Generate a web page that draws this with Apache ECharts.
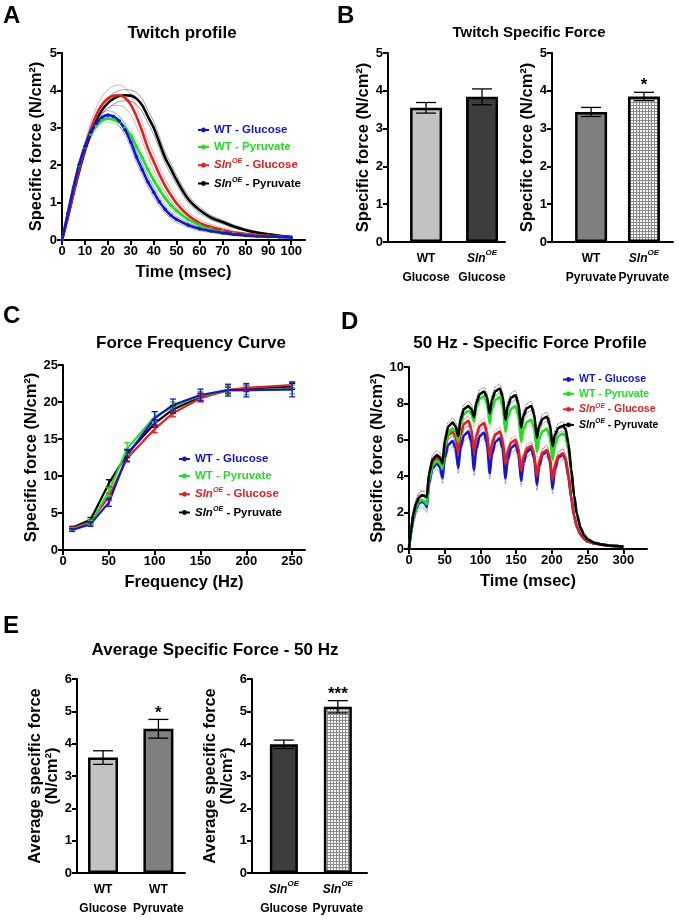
<!DOCTYPE html>
<html>
<head>
<meta charset="utf-8">
<script src="https://cdn.jsdelivr.net/npm/echarts@6/dist/echarts.min.js"></script>
<style>
  html, body { margin: 0; padding: 0; background: #fff; }
  #chart { width: 684px; height: 920px; }
</style>
</head>
<body>
<div id="chart"></div>
<script>
// ---------- data ----------
const groupNames = ['WT - Glucose', 'WT - Pyruvate', 'SlnOE - Glucose', 'SlnOE - Pyruvate'];
const groupColors = ['#1414d2', '#22dd22', '#e41e1e', '#000000'];

// A - twitch profile (ms, N/cm2)
const twitchTime = [0, 2.5, 5, 7.5, 10, 12.5, 15, 17.5, 20, 22.5, 25, 27.5, 30, 32.5, 35, 37.5, 40, 42.5, 45, 47.5, 50, 55, 60, 65, 70, 75, 80, 85, 90, 95, 100];
const twitchWTGlu = [0, 0.7, 1.4, 2.02, 2.5, 2.88, 3.12, 3.28, 3.34, 3.3, 3.18, 2.95, 2.62, 2.22, 1.88, 1.55, 1.28, 1.02, 0.82, 0.66, 0.55, 0.4, 0.3, 0.24, 0.19, 0.15, 0.12, 0.1, 0.09, 0.08, 0.07];
const twitchWTPyr = [0, 0.7, 1.4, 2.0, 2.48, 2.83, 3.05, 3.2, 3.25, 3.23, 3.15, 3.0, 2.8, 2.5, 2.2, 1.88, 1.6, 1.35, 1.12, 0.93, 0.78, 0.55, 0.4, 0.31, 0.24, 0.19, 0.15, 0.12, 0.1, 0.09, 0.08];
const twitchSlnGlu = [0, 0.6, 1.25, 1.9, 2.45, 2.95, 3.35, 3.62, 3.78, 3.86, 3.87, 3.8, 3.62, 3.3, 2.9, 2.45, 2.1, 1.75, 1.45, 1.2, 0.98, 0.66, 0.46, 0.35, 0.27, 0.2, 0.16, 0.13, 0.11, 0.09, 0.08];
const twitchSlnPyr = [0, 0.6, 1.25, 1.85, 2.4, 2.85, 3.2, 3.48, 3.66, 3.78, 3.85, 3.87, 3.86, 3.78, 3.6, 3.3, 3.0, 2.6, 2.2, 1.9, 1.6, 1.1, 0.8, 0.6, 0.48, 0.36, 0.27, 0.2, 0.15, 0.11, 0.08];
const twitchSemWTGlu = [0, 0.04, 0.07, 0.09, 0.1, 0.11, 0.11, 0.12, 0.12, 0.12, 0.13, 0.14, 0.15, 0.15, 0.15, 0.14, 0.13, 0.12, 0.1, 0.09, 0.08, 0.06, 0.05, 0.04, 0.03, 0.03, 0.02, 0.02, 0.02, 0.02, 0.02];
const twitchSemWTPyr = [0, 0.04, 0.07, 0.08, 0.09, 0.1, 0.1, 0.1, 0.11, 0.11, 0.12, 0.13, 0.14, 0.15, 0.15, 0.15, 0.14, 0.13, 0.12, 0.1, 0.09, 0.07, 0.05, 0.04, 0.04, 0.03, 0.03, 0.02, 0.02, 0.02, 0.02];
const twitchSemSlnGlu = [0, 0.05, 0.09, 0.12, 0.15, 0.18, 0.2, 0.22, 0.24, 0.26, 0.27, 0.27, 0.27, 0.26, 0.25, 0.23, 0.21, 0.19, 0.17, 0.15, 0.13, 0.1, 0.08, 0.06, 0.05, 0.04, 0.03, 0.03, 0.02, 0.02, 0.02];
const twitchSemSlnPyr = [0, 0.04, 0.07, 0.09, 0.1, 0.11, 0.12, 0.13, 0.14, 0.15, 0.15, 0.15, 0.15, 0.16, 0.17, 0.17, 0.17, 0.16, 0.15, 0.14, 0.12, 0.1, 0.08, 0.06, 0.05, 0.04, 0.03, 0.03, 0.02, 0.02, 0.02];
const twitchTicks = [0, 10, 20, 30, 40, 50, 60, 70, 80, 90, 100];

// B - twitch specific force bars
const twitchBarLeftLabels = ['WT\nGlucose', 'SlnOE\nGlucose'];
const twitchBarLeftMean = [3.55, 3.84];
const twitchBarLeftSem = [0.14, 0.21];
const twitchBarLeftSig = ['', ''];
const twitchBarRightLabels = ['WT\nPyruvate', 'SlnOE\nPyruvate'];
const twitchBarRightMean = [3.44, 3.85];
const twitchBarRightSem = [0.12, 0.11];
const twitchBarRightSig = ['', '*'];

// C - force frequency curve (Hz, N/cm2)
const freqHz = [10, 30, 50, 70, 100, 120, 150, 180, 200, 250];
const ffWTGlu = [2.7, 3.5, 6.4, 12.8, 17.8, 19.6, 20.95, 21.6, 21.6, 21.7];
const ffWTPyr = [2.8, 3.65, 7.9, 13.7, 18.0, 19.4, 20.85, 21.6, 21.6, 21.7];
const ffSlnGlu = [2.9, 3.8, 7.2, 12.4, 16.35, 18.5, 20.5, 21.6, 21.9, 22.3];
const ffSlnPyr = [3.0, 4.1, 9.0, 13.0, 17.1, 19.0, 20.7, 21.6, 21.8, 22.1];
const ffErrWTGlu = [0.2, 0.3, 0.5, 0.8, 0.9, 0.8, 0.8, 0.8, 0.9, 1.0];
const ffErrWTPyr = [0.2, 0.3, 0.6, 0.8, 0.7, 0.6, 0.6, 0.6, 0.6, 0.6];
const ffErrSlnGlu = [0.2, 0.3, 0.5, 0.5, 0.5, 0.5, 0.5, 0.4, 0.4, 0.4];
const ffErrSlnPyr = [0.2, 0.3, 0.5, 0.5, 0.5, 0.5, 0.5, 0.4, 0.4, 0.4];
const freqTicks = [0, 50, 100, 150, 200, 250];

// D - 50 Hz specific force profile (ms, N/cm2)
const tetTime = [0, 3, 6, 10, 14, 18, 22, 25, 28, 33, 39, 43, 47, 50, 55, 61, 65, 69, 72, 77, 83, 87, 91, 94, 99, 105, 109, 113, 116, 121, 127, 131, 135, 138, 143, 149, 153, 157, 160, 165, 171, 175, 179, 182, 187, 193, 197, 201, 204, 209, 215, 219, 223, 227, 231, 235, 240, 245, 250, 260, 270, 285, 300];
const tetWTGlu = [0, 0.9, 1.65, 2.2, 2.5, 2.6, 2.5, 2.3, 3.62, 4.46, 4.7, 4.5, 3.9, 5.02, 5.73, 5.93, 5.56, 4.45, 5.55, 6.25, 6.45, 5.93, 4.35, 5.48, 6.2, 6.4, 5.84, 4.15, 5.21, 5.89, 6.08, 5.53, 3.88, 4.91, 5.56, 5.75, 5.25, 3.74, 4.72, 5.35, 5.53, 5.03, 3.52, 4.54, 5.19, 5.38, 4.87, 3.33, 4.36, 5.01, 5.2, 4.9, 4.0, 2.8, 1.8, 1.2, 0.8, 0.55, 0.42, 0.3, 0.24, 0.18, 0.14];
const tetWTPyr = [0, 0.95, 1.75, 2.3, 2.6, 2.7, 2.6, 2.45, 3.77, 4.61, 4.85, 4.74, 4.4, 5.61, 6.38, 6.6, 6.43, 5.9, 6.84, 7.43, 7.6, 7.45, 7.0, 7.77, 8.26, 8.4, 8.03, 6.9, 7.7, 8.2, 8.35, 7.88, 6.45, 7.22, 7.71, 7.85, 7.36, 5.9, 6.56, 6.98, 7.1, 6.66, 5.35, 6.04, 6.48, 6.6, 6.18, 4.9, 5.7, 6.21, 6.35, 6.2, 5.5, 4.2, 2.9, 1.9, 1.2, 0.8, 0.55, 0.35, 0.25, 0.18, 0.14];
const tetSlnGlu = [0, 1.05, 1.9, 2.5, 2.82, 2.95, 2.92, 2.85, 4.03, 4.79, 5.0, 4.88, 4.5, 5.57, 6.26, 6.45, 6.16, 5.3, 6.26, 6.88, 7.05, 6.63, 5.35, 6.21, 6.76, 6.92, 6.44, 5.0, 5.8, 6.3, 6.45, 6.0, 4.65, 5.38, 5.85, 5.98, 5.56, 4.3, 5.05, 5.52, 5.66, 5.25, 4.0, 4.79, 5.3, 5.44, 5.03, 3.8, 4.6, 5.11, 5.26, 5.0, 4.1, 2.9, 1.85, 1.2, 0.8, 0.55, 0.42, 0.3, 0.23, 0.17, 0.13];
const tetSlnPyr = [0, 1.05, 1.9, 2.5, 2.82, 2.95, 2.92, 2.85, 4.12, 4.92, 5.15, 5.04, 4.7, 5.94, 6.73, 6.95, 6.76, 6.2, 7.11, 7.69, 7.85, 7.7, 7.25, 8.02, 8.51, 8.65, 8.35, 7.45, 8.2, 8.68, 8.82, 8.39, 7.1, 7.84, 8.32, 8.45, 8.0, 6.65, 7.32, 7.74, 7.86, 7.42, 6.1, 6.74, 7.15, 7.27, 6.87, 5.65, 6.26, 6.65, 6.76, 6.6, 5.8, 4.4, 2.95, 1.9, 1.15, 0.75, 0.52, 0.33, 0.24, 0.17, 0.13];
const tetSem = [0.3, 0.3, 0.25, 0.25];
const tetBandEnd = 227;
const tetTicks = [0, 50, 100, 150, 200, 250, 300];

// E - average specific force at 50 Hz
const avgLeftLabels = ['WT\nGlucose', 'WT\nPyruvate'];
const avgLeftMean = [3.57, 4.46];
const avgLeftSem = [0.21, 0.29];
const avgLeftSig = ['', '*'];
const avgRightLabels = ['SlnOE\nGlucose', 'SlnOE\nPyruvate'];
const avgRightMean = [3.98, 5.14];
const avgRightSem = [0.13, 0.19];
const avgRightSig = ['', '***'];

// ---------- styling helpers ----------
const FONT = '"Liberation Sans", Arial, Helvetica, sans-serif';
const NARROW = '"Liberation Sans Narrow", "Liberation Sans", Arial, sans-serif';

// checkered fill for the SlnOE pyruvate bars
const patCanvas = document.createElement('canvas');
patCanvas.width = 3;
patCanvas.height = 3;
const pctx = patCanvas.getContext('2d');
pctx.fillStyle = '#f4f4f4';
pctx.fillRect(0, 0, 3, 3);
pctx.fillStyle = '#8c8c8c';
pctx.fillRect(0, 0, 3, 1);
pctx.fillRect(0, 0, 1, 3);
const checkFill = { image: patCanvas, repeat: 'repeat' };

const FILL_WT_GLU = '#c2c2c2';
const FILL_SLN_GLU = '#3d3d3d';
const FILL_WT_PYR = '#7f7f7f';

function pairs(xs, ys) {
  return xs.map((x, i) => [x, ys[i]]);
}

function legendRich(size) {
  return {
    t: { fontSize: size, fontWeight: 'bold', fontFamily: FONT, lineHeight: size + 3 },
    i: { fontSize: size, fontWeight: 'bold', fontStyle: 'italic', fontFamily: FONT, lineHeight: size + 3 },
    s: { fontSize: size * 0.62, fontWeight: 'bold', fontStyle: 'italic', fontFamily: FONT, lineHeight: size * 0.7, verticalAlign: 'top' }
  };
}

function legendLabel(name) {
  if (name.indexOf('SlnOE') === 0) {
    return '{i|Sln}{s|OE}{t|' + name.slice(5) + '}';
  }
  return '{t|' + name + '}';
}

function makeLegend(left, top, size, gap) {
  return {
    orient: 'vertical',
    left: left,
    top: top,
    itemGap: gap,
    itemWidth: 11,
    itemHeight: 6,
    selectedMode: false,
    padding: 0,
    formatter: legendLabel,
    data: groupNames.map((n, i) => ({
      name: n,
      textStyle: { color: groupColors[i], fontSize: size, fontWeight: 'bold', fontFamily: FONT, rich: legendRich(size) }
    }))
  };
}

const catRich = {
  b: { fontSize: 12, fontWeight: 'bold', fontFamily: NARROW, lineHeight: 19, color: '#000' },
  i: { fontSize: 12, fontWeight: 'bold', fontStyle: 'italic', fontFamily: NARROW, lineHeight: 19, color: '#000' },
  s: { fontSize: 8, fontWeight: 'bold', fontStyle: 'italic', fontFamily: NARROW, lineHeight: 9, verticalAlign: 'top', color: '#000' },
  n: { fontSize: 12, fontWeight: 'bold', fontFamily: NARROW, lineHeight: 19, color: '#000' }
};

function catLabel(s) {
  const lines = s.split('\n');
  const first = lines[0] === 'SlnOE' ? '{i|Sln}{s|OE}' : '{b|' + lines[0] + '}';
  return first + '\n{n|' + lines[1] + '}';
}

const axisLineStyle = { show: true, onZero: false, lineStyle: { color: '#000', width: 2 } };
const tickStyle = { show: true, length: 5, lineStyle: { color: '#000', width: 2 } };
const labelStyle = { color: '#000', fontWeight: 'bold', fontSize: 13, fontFamily: FONT, margin: 5 };
const nameStyle = { color: '#000', fontWeight: 'bold', fontSize: 16.5, fontFamily: FONT };

function valueY(grid, max, interval, name, gap) {
  return {
    type: 'value', gridIndex: grid, min: 0, max: max, interval: interval,
    name: name, nameLocation: 'middle', nameGap: gap, nameTextStyle: nameStyle,
    axisLine: axisLineStyle, axisTick: tickStyle, axisLabel: labelStyle, splitLine: { show: false }
  };
}

function valueX(grid, max, ticks, name, gap) {
  return {
    type: 'value', gridIndex: grid, min: 0, max: max,
    name: name, nameLocation: 'middle', nameGap: gap, nameTextStyle: nameStyle,
    axisLine: axisLineStyle,
    axisTick: Object.assign({}, tickStyle, { customValues: ticks }),
    axisLabel: Object.assign({}, labelStyle, { customValues: ticks }),
    splitLine: { show: false }
  };
}

function barX(grid, min, max, labels) {
  return {
    type: 'value', gridIndex: grid, min: min, max: max,
    axisLine: axisLineStyle,
    axisTick: { show: false },
    axisLabel: {
      customValues: labels.map((l, i) => i + 1),
      margin: 7,
      formatter: v => catLabel(labels[Math.round(v) - 1]),
      rich: catRich
    },
    splitLine: { show: false }
  };
}

function errorRender(capHalf, color, width, sig, starSize) {
  return function (params, api) {
    const x = api.value(0), m = api.value(1), e = api.value(2);
    const hi = api.coord([x, m + e]);
    const lo = api.coord([x, m - e]);
    const st = { stroke: color, lineWidth: width };
    const children = [
      { type: 'line', shape: { x1: hi[0], y1: hi[1], x2: lo[0], y2: lo[1] }, style: st },
      { type: 'line', shape: { x1: hi[0] - capHalf, y1: hi[1], x2: hi[0] + capHalf, y2: hi[1] }, style: st },
      { type: 'line', shape: { x1: lo[0] - capHalf, y1: lo[1], x2: lo[0] + capHalf, y2: lo[1] }, style: st }
    ];
    if (sig && sig[params.dataIndex]) {
      children.push({
        type: 'text',
        style: {
          text: sig[params.dataIndex], x: hi[0], y: hi[1] + 2,
          align: 'center', verticalAlign: 'bottom',
          font: 'bold ' + starSize + 'px ' + FONT, fill: '#000'
        }
      });
    }
    return { type: 'group', children: children };
  };
}

function barSeries(grid, means, sems, sig, fills, width) {
  return [
    {
      type: 'bar', xAxisIndex: grid, yAxisIndex: grid, barWidth: width,
      data: means.map((v, i) => ({ value: [i + 1, v], itemStyle: { color: fills[i] } })),
      itemStyle: { borderColor: '#000', borderWidth: 2.5 },
      z: 2
    },
    {
      type: 'custom', xAxisIndex: grid, yAxisIndex: grid,
      data: means.map((v, i) => [i + 1, v, sems[i]]),
      renderItem: errorRender(10, '#000', 1.3, sig, 17),
      z: 3
    }
  ];
}

// ---------- series ----------
const series = [];

// A
const twitchMeans = [twitchWTGlu, twitchWTPyr, twitchSlnGlu, twitchSlnPyr];
const twitchSems = [twitchSemWTGlu, twitchSemWTPyr, twitchSemSlnGlu, twitchSemSlnPyr];
[1, 3, 2, 0].forEach(g => {
  const m = twitchMeans[g], s = twitchSems[g];
  [1, -1].forEach(sign => {
    series.push({
      type: 'line', name: 'semA', xAxisIndex: 0, yAxisIndex: 0, smooth: 0.3, showSymbol: false, silent: true,
      data: pairs(twitchTime, m.map((v, i) => v + sign * s[i])),
      lineStyle: { color: groupColors[g], width: 0.7, opacity: 0.55 }, z: 2
    });
  });
});
[1, 3, 2, 0].forEach(g => {
  series.push({
    type: 'line', name: groupNames[g], xAxisIndex: 0, yAxisIndex: 0, smooth: 0.3,
    showSymbol: g < 2, symbol: 'circle', symbolSize: 3.5,
    data: pairs(twitchTime, twitchMeans[g]),
    lineStyle: { color: groupColors[g], width: 2.6 }, itemStyle: { color: groupColors[g] }, z: 3
  });
});

// B
series.push(...barSeries(1, twitchBarLeftMean, twitchBarLeftSem, twitchBarLeftSig, [FILL_WT_GLU, FILL_SLN_GLU], 32));
series.push(...barSeries(2, twitchBarRightMean, twitchBarRightSem, twitchBarRightSig, [FILL_WT_PYR, checkFill], 32));

// C
const ffMeans = [ffWTGlu, ffWTPyr, ffSlnGlu, ffSlnPyr];
const ffErrs = [ffErrWTGlu, ffErrWTPyr, ffErrSlnGlu, ffErrSlnPyr];
[3, 2, 1, 0].forEach(g => {
  series.push({
    type: 'line', name: groupNames[g], xAxisIndex: 3, yAxisIndex: 3, showSymbol: false, symbol: 'circle',
    data: pairs(freqHz, ffMeans[g]),
    lineStyle: { color: groupColors[g], width: 2.2 }, itemStyle: { color: groupColors[g] }, z: 3
  });
  series.push({
    type: 'custom', name: 'errC', xAxisIndex: 3, yAxisIndex: 3,
    data: freqHz.map((f, i) => [f, ffMeans[g][i], ffErrs[g][i]]),
    renderItem: errorRender(3, groupColors[g], 1.3, null, 0), z: 4
  });
});

// D
const tetMeans = [tetWTGlu, tetWTPyr, tetSlnGlu, tetSlnPyr];
[0, 2, 1, 3].forEach(g => {
  const idx = tetTime.filter(t => t <= tetBandEnd).length;
  [1, -1].forEach(sign => {
    series.push({
      type: 'line', name: 'semD', xAxisIndex: 4, yAxisIndex: 4, smooth: 0.25, smoothMonotone: 'x',
      showSymbol: false, silent: true,
      data: pairs(tetTime.slice(0, idx), tetMeans[g].slice(0, idx).map(v => Math.max(0, v + sign * tetSem[g]))),
      lineStyle: { color: groupColors[g], width: 0.8, type: 'dotted', opacity: 0.8 }, z: 2
    });
  });
});
[0, 2, 1, 3].forEach(g => {
  series.push({
    type: 'line', name: groupNames[g], xAxisIndex: 4, yAxisIndex: 4, smooth: 0.25, smoothMonotone: 'x',
    showSymbol: false, symbol: 'circle',
    data: pairs(tetTime, tetMeans[g]),
    lineStyle: { color: groupColors[g], width: 2.6 }, itemStyle: { color: groupColors[g] }, z: 3
  });
});

// E
series.push(...barSeries(5, avgLeftMean, avgLeftSem, avgLeftSig, [FILL_WT_GLU, FILL_WT_PYR], 30));
series.push(...barSeries(6, avgRightMean, avgRightSem, avgRightSig, [FILL_SLN_GLU, checkFill], 28));

// ---------- text ----------
function txt(text, x, y, size, align) {
  return {
    type: 'text', x: x, y: y, silent: true,
    style: { text: text, font: 'bold ' + size + 'px ' + FONT, fill: '#000', align: align || 'center', verticalAlign: 'middle' }
  };
}

const option = {
  animation: false,
  backgroundColor: '#fff',
  grid: [
    { left: 62, top: 53, width: 243, height: 187 },
    { left: 388, top: 53, width: 117, height: 189 },
    { left: 552, top: 53, width: 121, height: 189 },
    { left: 63, top: 365, width: 242, height: 185 },
    { left: 409, top: 367, width: 238, height: 182 },
    { left: 77, top: 679, width: 108, height: 194 },
    { left: 252, top: 679, width: 115, height: 194 }
  ],
  xAxis: [
    valueX(0, 106, twitchTicks, 'Time (msec)', 24),
    barX(1, 0.32, 2.41, twitchBarLeftLabels),
    barX(2, 0.26, 2.55, twitchBarRightLabels),
    valueX(3, 264, freqTicks, 'Frequency (Hz)', 24),
    valueX(4, 333, tetTicks, 'Time (msec)', 24),
    barX(5, 0.53, 2.48, avgLeftLabels),
    barX(6, 0.41, 2.54, avgRightLabels)
  ],
  yAxis: [
    valueY(0, 5, 1, 'Specific force (N/cm²)', 17),
    valueY(1, 5, 1, 'Specific force (N/cm²)', 13),
    valueY(2, 5, 1, 'Specific force (N/cm²)', 13),
    valueY(3, 25, 5, 'Specific force (N/cm²)', 22),
    valueY(4, 10, 2, 'Specific force (N/cm²)', 22),
    valueY(5, 6, 1, 'Average specific force\n(N/cm²)', 13),
    valueY(6, 6, 1, 'Average specific force\n(N/cm²)', 12)
  ],
  legend: [
    makeLegend(197, 124, 11.5, 5),
    makeLegend(178, 453, 11.5, 5),
    makeLegend(562, 374, 10.5, 3.3)
  ],
  series: series,
  graphic: [
    txt('A', 3, 16, 24, 'left'),
    txt('B', 337, 16, 24, 'left'),
    txt('C', 3, 316, 24, 'left'),
    txt('D', 341, 322, 24, 'left'),
    txt('E', 3, 626, 24, 'left'),
    txt('Twitch profile', 182, 33, 17),
    txt('Twitch Specific Force', 529, 33, 15),
    txt('Force Frequency Curve', 191, 343, 17),
    txt('50 Hz - Specific Force Profile', 530, 343, 17),
    txt('Average Specific Force - 50 Hz', 215, 650, 17)
  ]
};

const chart = echarts.init(document.getElementById('chart'));
chart.setOption(option);
</script>
</body>
</html>
